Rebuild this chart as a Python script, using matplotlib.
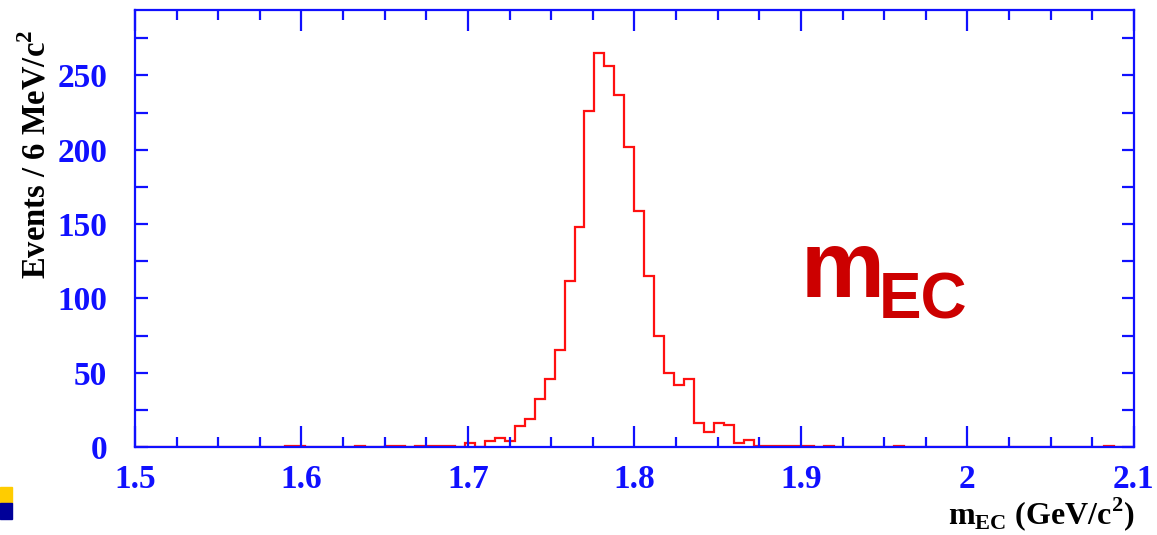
import matplotlib

matplotlib.use("Agg")
import matplotlib.pyplot as plt
from matplotlib.patches import Rectangle
from matplotlib.ticker import MultipleLocator

# m_EC distribution, 100 bins of 6 MeV/c^2 between 1.5 and 2.1 GeV/c^2
x_min, x_max, n_bins = 1.5, 2.1, 100
counts = [
    0, 0, 0, 0, 0, 0, 0, 0, 0, 0,
    0, 0, 0, 0, 0, 1, 1, 0, 0, 0,
    0, 0, 1, 0, 0, 1, 1, 0, 1, 1,
    1, 1, 0, 3, 0, 4, 6, 4, 14, 19,
    32, 46, 65, 112, 148, 226, 265, 256, 237, 202,
    159, 115, 75, 50, 42, 46, 16, 10, 16, 15,
    3, 5, 1, 1, 1, 1, 1, 1, 0, 1,
    0, 0, 0, 0, 0, 0, 1, 0, 0, 0,
    0, 0, 0, 0, 0, 0, 0, 0, 0, 0,
    0, 0, 0, 0, 0, 0, 0, 1, 0, 0,
]
x_ticks = [1.5, 1.6, 1.7, 1.8, 1.9, 2.0, 2.1]
x_tick_labels = ["1.5", "1.6", "1.7", "1.8", "1.9", "2", "2.1"]
y_ticks = [0, 50, 100, 150, 200, 250]

BLUE = "#1010ff"
RED = "#ff1010"
SERIF = "Liberation Serif"

edges = [x_min + i * (x_max - x_min) / n_bins for i in range(n_bins + 1)]

fig = plt.figure(figsize=(11.57, 5.35), dpi=100)
ax = fig.add_axes([0.1167, 0.1645, 0.8633, 0.8168])

ax.stairs(counts, edges, color=RED, linewidth=1.6)

ax.set_xlim(x_min, x_max)
ax.set_ylim(0, 294)
ax.set_xticks(x_ticks)
ax.set_xticklabels(x_tick_labels)
ax.set_yticks(y_ticks)
ax.xaxis.set_minor_locator(MultipleLocator(0.025))
ax.yaxis.set_minor_locator(MultipleLocator(25))

for side in ax.spines.values():
    side.set_color(BLUE)
    side.set_linewidth(1.6)

ax.tick_params(which="both", direction="in", top=True, right=True, color=BLUE, width=1.6)
ax.tick_params(which="major", length=15)
ax.tick_params(which="minor", length=7)
ax.tick_params(axis="x", which="major", pad=12)
ax.tick_params(axis="y", which="major", pad=20, length=9)
ax.tick_params(axis="y", which="minor", length=9)
for lab in ax.get_xticklabels() + ax.get_yticklabels():
    lab.set_fontfamily(SERIF)
    lab.set_fontweight("bold")
    lab.set_fontsize(24)
    lab.set_color(BLUE)

# axis titles
fig.text(0.031, 0.945, r"Events / 6 MeV/c$^{\mathregular{2}}$", rotation=90,
         ha="center", va="top", fontfamily=SERIF, fontweight="bold",
         fontsize=23.5, color="black")
fig.text(0.981, 0.020, r"m$_{\mathregular{EC}}$ (GeV/c$^{\mathregular{2}}$)",
         ha="right", va="baseline", fontfamily=SERIF, fontweight="bold",
         fontsize=23, color="black")

# big label inside the frame
ax.text(1.9000, 100.8, "m", transform=ax.transData, ha="left", va="baseline",
        fontfamily="Liberation Sans", fontweight="bold", fontsize=68, color="#cc0000")
ax.text(1.9470, 86.7, "EC", transform=ax.transData, ha="left", va="baseline",
        fontfamily="Liberation Sans", fontweight="bold", fontsize=46, color="#cc0000")

# bullet squares in the lower left corner
fig.patches.append(Rectangle((0, 1 - 503 / 535), 12 / 1157, 16 / 535,
                             transform=fig.transFigure, color="#ffcc00"))
fig.patches.append(Rectangle((0, 1 - 519 / 535), 12 / 1157, 16 / 535,
                             transform=fig.transFigure, color="#000099"))

fig.savefig("out.png", dpi=100)
plt.close(fig)
